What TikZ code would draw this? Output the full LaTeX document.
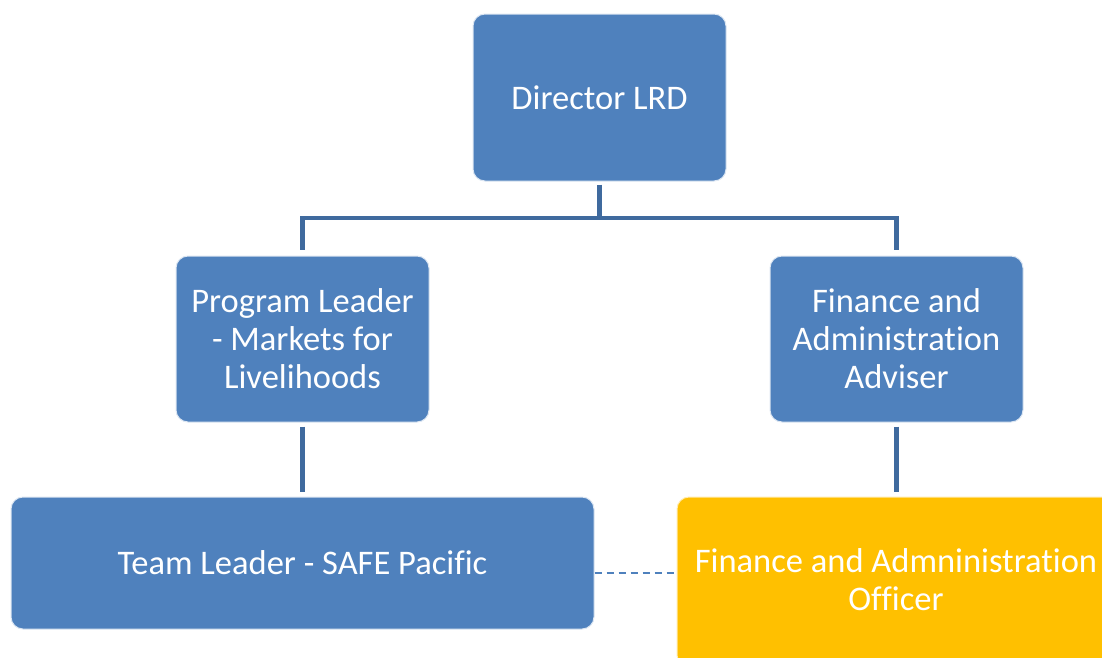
\documentclass[tikz,border=0pt]{standalone}
\usepackage{fontspec}
\setmainfont{Carlito}[Ligatures={NoCommon}]
\definecolor{boxblue}{HTML}{4F81BD}
\definecolor{lineblue}{HTML}{3F6A9E}
\definecolor{boxyellow}{HTML}{FFC000}
\tikzset{
  orgbox/.style={draw=white!80!boxblue, line width=1pt, fill=boxblue, rounded corners=12pt,
    text=white, align=center, font=\fontsize{34.5}{38}\selectfont, inner sep=0pt},
  officerbox/.style={orgbox, fill=boxyellow, draw=white!70!boxyellow},
  link/.style={draw=lineblue, line width=4.5pt},
  dotlink/.style={draw=boxblue, line width=1.5pt, dash pattern=on 7pt off 5pt}
}
\begin{document}
\begin{tikzpicture}[x=1pt,y=-1pt]
\useasboundingbox (0,0) rectangle (1102,657);
\begin{scope}
\clip (0,0) rectangle (1102,657);
\node[orgbox, minimum width=253pt, minimum height=167pt] (dir) at (599.5,97.5) {Director LRD};
\node[orgbox, minimum width=253pt, minimum height=166pt] (pl) at (302.5,339) {Program Leader\\- Markets for\\Livelihoods};
\node[orgbox, minimum width=253pt, minimum height=166pt] (fa) at (896.5,339) {Finance and\\Administration\\Adviser};
\node[orgbox, minimum width=583pt, minimum height=132pt] (tl) at (302.5,563) {Team Leader - SAFE Pacific};
\node[officerbox, minimum width=438pt, minimum height=170pt] (fo) at (896,582) {};
\node[text=white, align=center, font=\fontsize{34.5}{38}\selectfont, inner sep=0pt] (fotext) at (896,580) {Finance and Admninistration\\Officer};
\end{scope}
\coordinate (bus) at (599.5,218);
\draw[link] ([yshift=-3pt]dir.south) -- (bus);
\draw[link] ([yshift=6pt]pl.north) |- (bus) -| ([yshift=6pt]fa.north);
\draw[link] ([yshift=-4pt]pl.south) -- ([yshift=5pt]tl.north);
\draw[link] ([yshift=-4pt]fa.south) -- ([yshift=5pt]fo.north -| fa.south);
\draw[dotlink] (tl.east |- 0,573) -- (fo.west |- 0,573);
\end{tikzpicture}
\end{document}
